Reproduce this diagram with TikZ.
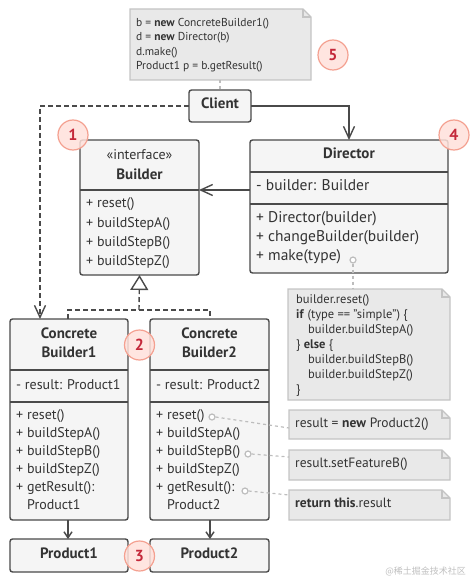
\documentclass[tikz,border=0pt]{standalone}
\usepackage{fontspec}
\setmainfont{PT Sans}
\newfontfamily\cjkfont{Noto Sans CJK SC}
\usetikzlibrary{arrows.meta,calc}
\definecolor{boxline}{HTML}{4A4A4A}
\definecolor{boxfill}{HTML}{F5F5F5}
\definecolor{notefill}{HTML}{E9E9E9}
\definecolor{noteline}{HTML}{C4C4C4}
\definecolor{txt}{HTML}{333333}
\definecolor{numfill}{HTML}{FFE1DA}
\definecolor{numline}{HTML}{F4A090}
\definecolor{numtxt}{HTML}{C4283A}
\definecolor{conn}{HTML}{BDBDBD}
\begin{document}
\begin{tikzpicture}[x=1pt,y=-1pt,
  box/.style={draw=boxline,fill=boxfill,line width=1.4pt,rounded corners=2.5pt,inner sep=0pt,outer sep=0pt,anchor=north west},
  divider/.style={draw=boxline,line width=1.4pt},
  ln/.style={anchor=west,inner sep=0pt,text height=0.7em,text depth=0.2em,text=txt,font=\fontsize{14}{16}\selectfont},
  bln/.style={ln,font=\fontsize{15.5}{17}\selectfont},
  ttl/.style={inner sep=0pt,text height=0.7em,text depth=0.2em,text=txt,font=\fontsize{15}{17}\selectfont\bfseries},
  nln/.style={anchor=west,inner sep=0pt,text height=0.7em,text depth=0.2em,text=txt,font=\fontsize{11.5}{14}\selectfont},
  dln/.style={nln,font=\fontsize{12.5}{14}\selectfont},
  sln/.style={nln,font=\fontsize{13.5}{15}\selectfont},
  notebox/.style={draw=noteline,fill=notefill,line width=1.4pt},
  num/.style={circle,draw=numline,line width=1.2pt,fill=numfill,fill opacity=0.85,text opacity=1,minimum size=30pt,inner sep=0pt,text=numtxt,font=\fontsize{16}{16}\selectfont\bfseries},
  arr/.style={draw=boxline,line width=1.4pt,-{Straight Barb[length=12pt,width=11pt]}},
  sarr/.style={draw=boxline,line width=1.4pt,-{Straight Barb[length=6pt,width=8pt]}},
  dsh/.style={dash pattern=on 5pt off 3pt},
  dotc/.style={draw=conn,line width=1.2pt,dash pattern=on 3pt off 3pt},
  pin/.style={circle,draw=conn,line width=1.2pt,fill=white,minimum size=6pt,inner sep=0pt},
]
\useasboundingbox (0,0) rectangle (470,580);

% ---------- note 5 ----------
\path[notebox] (130,9) -- (303,9) -- (311,17) -- (311,80) -- (130,80) -- cycle;
\draw[noteline,line width=1.2pt] (303,9) -- (303,17) -- (311,17);
\node[anchor=north west,inner sep=0pt,minimum width=181pt,minimum height=71pt] (note5) at (130,9) {};
\node[nln] at (136,24) {b = \textbf{new} ConcreteBuilder1()};
\node[nln] at (136,38.5) {d = \textbf{new} Director(b)};
\node[nln] at (136,53) {d.make()};
\node[nln] at (136,67.5) {Product1 p = b.getResult()};

% ---------- boxes ----------
\node[box,minimum width=62pt,minimum height=32pt] (client) at (189,90) {};
\node[ttl] at (client.center) {Client};

\node[box,minimum width=119pt,minimum height=135pt] (builder) at (80,140) {};
\draw[divider] (80,190) -- (199,190);
\node[ln,anchor=center] at (139.5,157) {«interface»};
\node[ttl] at (139.5,177) {Builder};
\node[ln] at (86,205) {+ reset()};
\node[ln] at (86,224.5) {+ buildStepA()};
\node[ln] at (86,244) {+ buildStepB()};
\node[ln] at (86,263) {+ buildStepZ()};

\node[box,minimum width=198pt,minimum height=133pt] (director) at (250,140) {};
\draw[divider] (250,172) -- (448,172);
\draw[divider] (250,204) -- (448,204);
\node[ttl] at (349,156) {Director};
\node[bln] at (256,188) {- builder: Builder};
\node[bln] at (256,220) {+ Director(builder)};
\node[bln] at (256,239) {+ changeBuilder(builder)};
\node[bln] at (256,258) {+ make(type)};
\node[pin] (pmake) at (353,260) {};

\node[box,minimum width=118pt,minimum height=201pt] (cb1) at (10,319) {};
\draw[divider] (10,370) -- (128,370);
\draw[divider] (10,402) -- (128,402);
\node[ttl] at (69,336) {Concrete};
\node[ttl] at (69,355) {Builder1};
\node[ln] at (16,387) {- result: Product1};
\node[ln] at (16,417) {+ reset()};
\node[ln] at (16,435) {+ buildStepA()};
\node[ln] at (16,453) {+ buildStepB()};
\node[ln] at (16,471) {+ buildStepZ()};
\node[ln] at (16,489) {+ getResult():};
\node[ln] at (27,507) {Product1};

\node[box,minimum width=119pt,minimum height=201pt] (cb2) at (150,319) {};
\draw[divider] (150,370) -- (269,370);
\draw[divider] (150,402) -- (269,402);
\node[ttl] at (209.5,336) {Concrete};
\node[ttl] at (209.5,355) {Builder2};
\node[ln] at (156,387) {- result: Product2};
\node[ln] at (156,417) {+ reset()};
\node[ln] at (156,435) {+ buildStepA()};
\node[ln] at (156,453) {+ buildStepB()};
\node[ln] at (156,471) {+ buildStepZ()};
\node[ln] at (156,489) {+ getResult():};
\node[ln] at (167,507) {Product2};
\node[pin] (preset) at (212,417) {};
\node[pin] (pstepb) at (248,454) {};
\node[pin] (pget) at (245,491) {};

\node[box,minimum width=118pt,minimum height=33pt] (prod1) at (10,539) {};
\node[ttl] at (prod1.center) {Product1};
\node[box,minimum width=119pt,minimum height=33pt] (prod2) at (150,539) {};
\node[ttl] at (prod2.center) {Product2};

% ---------- director note ----------
\path[notebox] (288,289) -- (442,289) -- (450,297) -- (450,400) -- (288,400) -- cycle;
\draw[noteline,line width=1.2pt] (442,289) -- (442,297) -- (450,297);
\node[anchor=north west,inner sep=0pt,minimum width=162pt,minimum height=111pt] (dnote) at (288,289) {};
\node[dln] at (296,301) {builder.reset()};
\node[dln] at (296,316) {\textbf{if} (type == "simple") \{};
\node[dln] at (308,331) {builder.buildStepA()};
\node[dln] at (296,346) {\} \textbf{else} \{};
\node[dln] at (308,361) {builder.buildStepB()};
\node[dln] at (308,376) {builder.buildStepZ()};
\node[dln] at (296,391) {\}};

% ---------- small notes ----------
\path[notebox] (289,410) -- (442,410) -- (450,418) -- (450,439) -- (289,439) -- cycle;
\draw[noteline,line width=1.2pt] (442,410) -- (442,418) -- (450,418);
\node[anchor=north west,inner sep=0pt,minimum width=161pt,minimum height=29pt] (n1) at (289,410) {};
\node[sln] at (295,425) {result = \textbf{new} Product2()};

\path[notebox] (289,450) -- (442,450) -- (450,458) -- (450,480) -- (289,480) -- cycle;
\draw[noteline,line width=1.2pt] (442,450) -- (442,458) -- (450,458);
\node[anchor=north west,inner sep=0pt,minimum width=161pt,minimum height=30pt] (n2) at (289,450) {};
\node[sln] at (295,465) {result.setFeatureB()};

\path[notebox] (289,490) -- (442,490) -- (450,498) -- (450,520) -- (289,520) -- cycle;
\draw[noteline,line width=1.2pt] (442,490) -- (442,498) -- (450,498);
\node[anchor=north west,inner sep=0pt,minimum width=161pt,minimum height=30pt] (n3) at (289,490) {};
\node[sln] at (295,505) {\textbf{return this}.result};

% ---------- note connectors ----------
\draw[dotc] (220,80) -- (220,90);
\draw[dotc] (pmake.south) -- (pmake.south |- dnote.north);
\draw[dotc] (preset.east) -- (289,428);
\draw[dotc] (pstepb.east) -- (289,457);
\draw[dotc] (pget.east) -- (289,495);

% ---------- relations ----------
\coordinate (c1top) at (40,319);
\draw[arr,dsh] (client.west) -| (c1top);
\draw[arr] (client.east) -| (director.north);
\draw[arr] (director.west |- 0,190) -- (builder.east |- 0,190);
\draw[boxline,line width=1.4pt,dsh] (68,319) -- (68,310) -- (210,310) -- (210,319);
\draw[boxline,line width=1.4pt,dsh,-{Triangle[open,length=15pt,width=18pt,line width=1.4pt]}] (139,310) -- (builder.south);
\draw[sarr] (cb1.south -| 68,0) -- (prod1.north -| 68,0);
\draw[sarr] (cb2.south -| 210,0) -- (prod2.north -| 210,0);

% ---------- numbers ----------
\node[num] (k1) at (73,135) {1};
\node[num] (k2) at (139.5,345) {2};
\node[num] (k3) at (139.5,556) {3};
\node[num] (k4) at (454,135) {4};
\node[num] (k5) at (333,55) {5};

% ---------- watermark ----------
\node[anchor=east,inner sep=0pt,text=black!25,font=\cjkfont\fontsize{9}{10}\selectfont] (wm) at (466,571) {@稀土掘金技术社区};
\end{tikzpicture}
\end{document}
